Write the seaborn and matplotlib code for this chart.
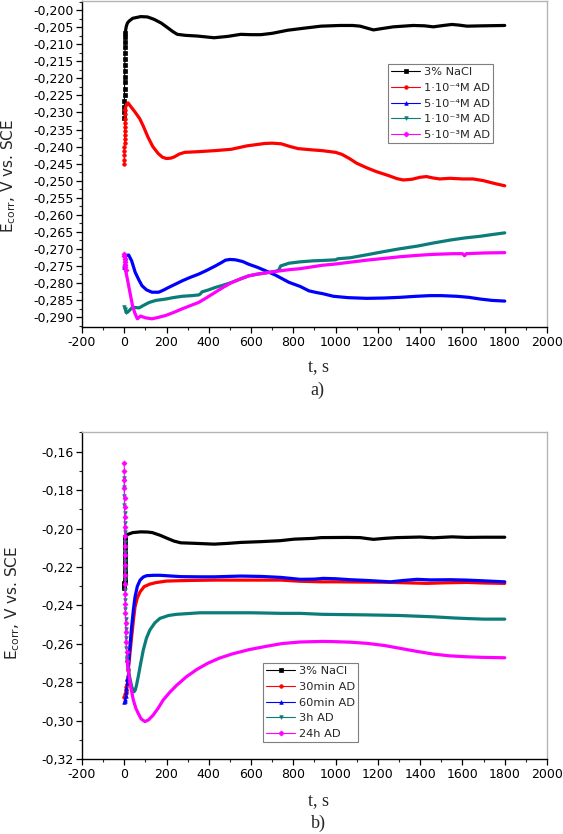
import matplotlib
matplotlib.use("Agg")
import matplotlib.pyplot as plt
from matplotlib.ticker import MultipleLocator
import seaborn as sns

# ---------------- data: panel a) ----------------
labels_a = ["3% NaCl", "1·10⁻⁴M AD", "5·10⁻⁴M AD", "1·10⁻³M AD", "5·10⁻³M AD"]

# initial fast-sampled points (drawn with symbols)
a_black_t0 = [0, 0.3, 0.6, 0.9, 1.2, 1.5, 1.8, 2.1, 2.4, 2.7, 3.0, 3.4, 3.8, 4.3, 4.9, 5.6]
a_black_e0 = [-0.2315, -0.2300, -0.2283, -0.2265, -0.2248, -0.2230, -0.2212, -0.2195, -0.2178,
              -0.2160, -0.2142, -0.2125, -0.2108, -0.2092, -0.2078, -0.2066]
a_black_t = [5.6, 7, 10, 15, 23, 40, 78, 110, 141, 175, 204, 230, 251, 290, 346, 425, 490, 551, 600,
             646, 700, 773, 850, 931, 1021, 1080, 1116, 1150, 1179, 1220, 1273, 1367, 1420, 1462,
             1510, 1550, 1585, 1621, 1700, 1800]
a_black_e = [-0.2066, -0.2057, -0.2047, -0.2038, -0.2032, -0.2024, -0.2019, -0.2020, -0.2027, -0.2038,
             -0.2051, -0.2063, -0.2071, -0.2074, -0.2076, -0.2081, -0.2077, -0.2071, -0.2072,
             -0.2072, -0.2068, -0.2059, -0.2053, -0.2047, -0.2045, -0.2045, -0.2047, -0.2053,
             -0.2058, -0.2054, -0.2049, -0.2045, -0.2046, -0.2049, -0.2045, -0.2042, -0.2044,
             -0.2047, -0.2046, -0.2045]

a_red_t0 = [0, 0.25, 0.5, 0.75, 1.0, 1.25, 1.5, 1.75, 2.0, 2.25, 2.5, 2.75, 3.0, 3.5]
a_red_e0 = [-0.2450, -0.2438, -0.2426, -0.2414, -0.2402, -0.2390, -0.2378, -0.2366, -0.2354,
            -0.2342, -0.2330, -0.2318, -0.2306, -0.2294]
a_red_t = [3.5, 8, 13, 18, 30, 50, 73, 90, 112, 135, 160, 180, 199, 220, 238, 260, 286, 350, 427,
           506, 580, 664, 700, 743, 785, 822, 894, 937, 1000, 1030, 1065, 1100, 1150, 1195, 1250,
           1290, 1320, 1360, 1400, 1430, 1460, 1493, 1541, 1600, 1651, 1700, 1750, 1800]
a_red_e = [-0.2294, -0.2282, -0.2275, -0.2272, -0.2282, -0.2298, -0.2318, -0.2340, -0.2372, -0.2400,
           -0.2420, -0.2431, -0.2435, -0.2434, -0.2430, -0.2422, -0.2417, -0.2415, -0.2412,
           -0.2408, -0.2398, -0.2391, -0.2390, -0.2392, -0.2400, -0.2406, -0.2410, -0.2412,
           -0.2417, -0.2423, -0.2435, -0.2449, -0.2463, -0.2474, -0.2485, -0.2494, -0.2498,
           -0.2496, -0.2490, -0.2488, -0.2492, -0.2495, -0.2493, -0.2495, -0.2495, -0.2500,
           -0.2508, -0.2515]

a_blue_t0 = [0, 1, 2, 3, 4, 5]
a_blue_e0 = [-0.2752, -0.2746, -0.2740, -0.2734, -0.2728, -0.2723]
a_blue_t = [5, 12, 21, 35, 52, 70, 84, 105, 131, 163, 185, 210, 240, 273, 310, 352, 390, 431, 460,
            479, 500, 526, 560, 589, 630, 668, 716, 779, 832, 874, 910, 937, 990, 1060, 1148, 1230,
            1305, 1380, 1447, 1500, 1574, 1630, 1684, 1740, 1800]
a_blue_e = [-0.2723, -0.2719, -0.2718, -0.2735, -0.2769, -0.2792, -0.2808, -0.2820, -0.2827, -0.2827,
            -0.2821, -0.2813, -0.2804, -0.2794, -0.2784, -0.2774, -0.2763, -0.2750, -0.2740,
            -0.2733, -0.2731, -0.2732, -0.2737, -0.2745, -0.2754, -0.2764, -0.2777, -0.2798,
            -0.2810, -0.2823, -0.2828, -0.2831, -0.2839, -0.2843, -0.2845, -0.2844, -0.2842,
            -0.2839, -0.2837, -0.2837, -0.2839, -0.2842, -0.2847, -0.2851, -0.2853]

a_teal_t0 = [0, 2, 4, 6, 8]
a_teal_e0 = [-0.2870, -0.2875, -0.2880, -0.2884, -0.2886]
a_teal_t = [8, 15, 25, 39, 55, 70, 90, 118, 150, 197, 230, 273, 320, 352, 360, 368, 400, 431, 470,
            510, 550, 589, 630, 684, 720, 731, 740, 779, 832, 894, 937, 1000, 1010, 1069, 1150,
            1227, 1300, 1385, 1460, 1543, 1610, 1684, 1740, 1800]
a_teal_e = [-0.2886, -0.2886, -0.2880, -0.2871, -0.2872, -0.2873, -0.2866, -0.2857, -0.2851, -0.2847,
            -0.2843, -0.2839, -0.2837, -0.2835, -0.2832, -0.2826, -0.2820, -0.2813, -0.2806,
            -0.2798, -0.2788, -0.2779, -0.2774, -0.2769, -0.2765, -0.2762, -0.2750, -0.2742,
            -0.2738, -0.2735, -0.2734, -0.2732, -0.2729, -0.2726, -0.2717, -0.2708, -0.2700,
            -0.2692, -0.2683, -0.2674, -0.2668, -0.2663, -0.2658, -0.2653]

a_mag_t0 = [0, 1, 2, 3, 4, 5, 6]
a_mag_e0 = [-0.2714, -0.2722, -0.2730, -0.2738, -0.2746, -0.2754, -0.2762]
a_mag_t = [6, 15, 27, 39, 50, 62, 68, 77, 100, 131, 160, 197, 235, 273, 310, 352, 390, 431, 470, 510,
           550, 589, 630, 684, 730, 779, 832, 937, 990, 1069, 1148, 1227, 1305, 1385, 1463, 1560,
           1600, 1610, 1618, 1700, 1800]
a_mag_e = [-0.2762, -0.2789, -0.2828, -0.2866, -0.2888, -0.2905, -0.2902, -0.2897, -0.2902, -0.2905,
           -0.2901, -0.2895, -0.2886, -0.2876, -0.2867, -0.2857, -0.2843, -0.2827, -0.2812,
           -0.2798, -0.2788, -0.2779, -0.2774, -0.2769, -0.2765, -0.2761, -0.2758, -0.2748,
           -0.2745, -0.2739, -0.2733, -0.2728, -0.2723, -0.2719, -0.2716, -0.2714, -0.2714,
           -0.2720, -0.2714, -0.2712, -0.2711]

# ---------------- data: panel b) ----------------
labels_b = ["3% NaCl", "30min AD", "60min AD", "3h AD", "24h AD"]

b_black_t0 = [0, 0.3, 0.6, 0.9, 1.2, 1.5, 1.8, 2.1, 2.4, 2.7, 3.0, 3.4, 3.8, 4.3, 4.9, 5.6]
b_black_e0 = [-0.2311, -0.2298, -0.2290, -0.2285, -0.2280, -0.2260, -0.2238, -0.2215, -0.2192,
              -0.2170, -0.2148, -0.2125, -0.2102, -0.2080, -0.2060, -0.2045]
b_black_t = [5.6, 10, 17, 40, 78, 110, 133, 170, 204, 235, 267, 340, 425, 490, 551, 646, 737, 804,
             894, 931, 1053, 1116, 1150, 1179, 1230, 1289, 1400, 1462, 1550, 1621, 1700, 1800]
b_black_e = [-0.2045, -0.2035, -0.2030, -0.2021, -0.2017, -0.2018, -0.2021, -0.2035, -0.2051, -0.2065,
             -0.2074, -0.2077, -0.2081, -0.2077, -0.2072, -0.2068, -0.2063, -0.2055, -0.2051,
             -0.2047, -0.2046, -0.2047, -0.2052, -0.2056, -0.2051, -0.2047, -0.2044, -0.2048,
             -0.2043, -0.2046, -0.2045, -0.2045]

b_red_t0 = [0, 2, 4, 6, 8, 10, 12, 14, 16, 19]
b_red_e0 = [-0.2875, -0.2870, -0.2862, -0.2852, -0.2840, -0.2825, -0.2808, -0.2790, -0.2770, -0.2736]
b_red_t = [19, 27, 35, 43, 51, 62, 75, 94, 121, 150, 200, 300, 425, 600, 741, 800, 832, 931, 990,
           1227, 1432, 1520, 1622, 1700, 1800]
b_red_e = [-0.2736, -0.2650, -0.2563, -0.2480, -0.2407, -0.2360, -0.2329, -0.2302, -0.2289, -0.2281,
           -0.2273, -0.2270, -0.2268, -0.2268, -0.2268, -0.2272, -0.2274, -0.2277, -0.2277,
           -0.2279, -0.2285, -0.2282, -0.2280, -0.2283, -0.2285]

b_blue_t0 = [0, 2, 4, 6, 8, 10, 12, 14, 16, 19]
b_blue_e0 = [-0.2901, -0.2895, -0.2885, -0.2870, -0.2852, -0.2830, -0.2805, -0.2780, -0.2755, -0.2719]
b_blue_t = [19, 27, 35, 43, 51, 62, 75, 90, 106, 140, 169, 267, 358, 425, 551, 650, 741, 832, 899,
            942, 1000, 1069, 1150, 1258, 1320, 1385, 1450, 1543, 1620, 1684, 1800]
b_blue_e = [-0.2719, -0.2610, -0.2511, -0.2425, -0.2355, -0.2300, -0.2268, -0.2252, -0.2245, -0.2243,
            -0.2243, -0.2250, -0.2251, -0.2251, -0.2247, -0.2249, -0.2254, -0.2264, -0.2263,
            -0.2259, -0.2261, -0.2266, -0.2270, -0.2277, -0.2270, -0.2264, -0.2267, -0.2266,
            -0.2268, -0.2271, -0.2277]

b_teal_t0 = [0, 0.3, 0.6, 0.9, 1.2, 1.5, 1.8, 2.1, 2.4, 2.8, 3.2, 3.7, 4.2, 4.8, 5.5, 6.3, 7.2, 8.5, 10, 12]
b_teal_e0 = [-0.1739, -0.1785, -0.1830, -0.1875, -0.1920, -0.1970, -0.2020, -0.2070, -0.2120, -0.2170,
             -0.2220, -0.2270, -0.2320, -0.2370, -0.2420, -0.2470, -0.2520, -0.2570, -0.2620, -0.2670]
b_teal_t = [12, 20, 27, 36, 46, 52, 58, 66, 78, 90, 105, 121, 145, 169, 210, 248, 358, 431, 600, 747,
            832, 937, 1148, 1300, 1463, 1560, 1622, 1700, 1800]
b_teal_e = [-0.2670, -0.2735, -0.2780, -0.2825, -0.2849, -0.2840, -0.2815, -0.2771, -0.2700, -0.2632,
            -0.2570, -0.2528, -0.2490, -0.2467, -0.2452, -0.2446, -0.2438, -0.2438, -0.2438,
            -0.2441, -0.2441, -0.2446, -0.2449, -0.2452, -0.2459, -0.2465, -0.2468, -0.2471, -0.2471]

b_mag_t0 = [0, 0.3, 0.6, 0.9, 1.2, 1.5, 1.8, 2.1, 2.4, 2.7, 3.0, 3.4, 3.8, 4.2, 4.7, 5.2, 5.8, 6.5, 7.5, 9, 11, 14]
b_mag_e0 = [-0.1661, -0.1700, -0.1745, -0.1790, -0.1840, -0.1890, -0.1940, -0.1990, -0.2040, -0.2090,
            -0.2140, -0.2190, -0.2240, -0.2290, -0.2340, -0.2390, -0.2440, -0.2490, -0.2540,
            -0.2590, -0.2640, -0.2690]
b_mag_t = [14, 20, 30, 43, 55, 66, 80, 98, 115, 137, 160, 184, 215, 248, 295, 343, 396, 450, 511, 589,
           674, 747, 832, 937, 990, 1070, 1148, 1230, 1305, 1380, 1463, 1540, 1622, 1700, 1800]
b_mag_e = [-0.2690, -0.2745, -0.2820, -0.2892, -0.2935, -0.2961, -0.2990, -0.3004, -0.2995, -0.2970,
           -0.2935, -0.2892, -0.2852, -0.2815, -0.2770, -0.2733, -0.2700, -0.2674, -0.2652,
           -0.2630, -0.2612, -0.2598, -0.2590, -0.2587, -0.2588, -0.2591, -0.2597, -0.2608,
           -0.2623, -0.2638, -0.2653, -0.2662, -0.2667, -0.2670, -0.2672]

# ---------------- ticks ----------------
xticks = [-200, 0, 200, 400, 600, 800, 1000, 1200, 1400, 1600, 1800, 2000]
yticks_a = [-0.200, -0.205, -0.210, -0.215, -0.220, -0.225, -0.230, -0.235, -0.240, -0.245,
            -0.250, -0.255, -0.260, -0.265, -0.270, -0.275, -0.280, -0.285, -0.290]
yticks_b = [-0.16, -0.18, -0.20, -0.22, -0.24, -0.26, -0.28, -0.30, -0.32]

colors = ["#000000", "#ff0000", "#0000ff", "#0b7d78", "#ff00ff"]
markers = ["s", "o", "^", "v", "D"]

sns.set_style("ticks")
plt.rcParams["font.family"] = ["DejaVu Sans"]
plt.rcParams["mathtext.fontset"] = "dejavusans"

fig = plt.figure(figsize=(5.63, 8.34), dpi=100)
ax_a = fig.add_axes([0.1456, 0.6075, 0.826, 0.3910])
ax_b = fig.add_axes([0.1456, 0.0896, 0.826, 0.3921])


def draw(ax, t0, e0, t, e, color, marker, label):
    sns.lineplot(x=t, y=e, color=color, lw=2.3, ax=ax, sort=False, estimator=None, legend=False)
    sns.lineplot(x=t0, y=e0, color=color, lw=0.8, marker=marker, ms=2.6, mec=color, mfc=color,
                 mew=0.5, ax=ax, sort=False, estimator=None, label=label)


series_a = [(a_black_t0, a_black_e0, a_black_t, a_black_e),
            (a_red_t0, a_red_e0, a_red_t, a_red_e),
            (a_blue_t0, a_blue_e0, a_blue_t, a_blue_e),
            (a_teal_t0, a_teal_e0, a_teal_t, a_teal_e),
            (a_mag_t0, a_mag_e0, a_mag_t, a_mag_e)]
series_b = [(b_black_t0, b_black_e0, b_black_t, b_black_e),
            (b_red_t0, b_red_e0, b_red_t, b_red_e),
            (b_blue_t0, b_blue_e0, b_blue_t, b_blue_e),
            (b_teal_t0, b_teal_e0, b_teal_t, b_teal_e),
            (b_mag_t0, b_mag_e0, b_mag_t, b_mag_e)]

for s, c, m, lab in zip(series_a, colors, markers, labels_a):
    draw(ax_a, *s, c, m, lab)
for s, c, m, lab in zip(series_b, colors, markers, labels_b):
    draw(ax_b, *s, c, m, lab)


def style(ax, yticks, ylim, yminor, ydec, ylab_x, ylab_y, xlab_y):
    ax.set_xlim(-200, 2000)
    ax.set_ylim(*ylim)
    ax.set_xticks(xticks, [str(v) for v in xticks])
    ax.set_yticks(yticks, [f"{v:.{ydec}f}".replace(".", ",") for v in yticks])
    ax.xaxis.set_minor_locator(MultipleLocator(100))
    ax.yaxis.set_minor_locator(MultipleLocator(yminor))
    ax.tick_params(which="major", direction="out", length=4, width=0.9, labelsize=9,
                   colors="black", pad=2, top=False, right=False)
    ax.tick_params(which="minor", direction="out", length=2.2, width=0.8, top=False, right=False)
    for side in ("left", "bottom"):
        ax.spines[side].set_color("black")
        ax.spines[side].set_linewidth(1.0)
    for side in ("top", "right"):
        ax.spines[side].set_visible(True)
        ax.spines[side].set_color("#b4b4b4")
        ax.spines[side].set_linewidth(1.0)
    ax.set_ylabel("E$_{\\mathrm{corr}}$, V vs. SCE", fontsize=11)
    ax.yaxis.set_label_coords(ylab_x, ylab_y)
    ax.set_xlabel("t, s", fontsize=13, family=["Liberation Serif"])
    ax.xaxis.set_label_coords(0.508, xlab_y)
    ax.grid(False)


style(ax_a, yticks_a, (-0.2930, -0.1974), 0.0025, 3, -0.138, 0.463, -0.095)
style(ax_b, yticks_b, (-0.320, -0.1499), 0.01, 2, -0.128, 0.478, -0.100)


def legend(ax, x, y):
    h, l = ax.get_legend_handles_labels()
    lg = ax.legend(h, l, loc="upper left", bbox_to_anchor=(x, y), fontsize=8.2, frameon=True,
                   fancybox=False, framealpha=1, edgecolor="#7f7f7f", borderpad=0.3,
                   handlelength=2.5, handletextpad=0.35, labelspacing=0.5, borderaxespad=0)
    lg.get_frame().set_linewidth(0.8)


legend(ax_a, 0.658, 0.808)
legend(ax_b, 0.389, 0.295)

fig.text(0.563, 0.532, "a)", ha="center", va="center", fontsize=13, family=["Liberation Serif"])
fig.text(0.566, 0.013, "b)", ha="center", va="center", fontsize=13, family=["Liberation Serif"])

fig.savefig("out.png", dpi=100)
